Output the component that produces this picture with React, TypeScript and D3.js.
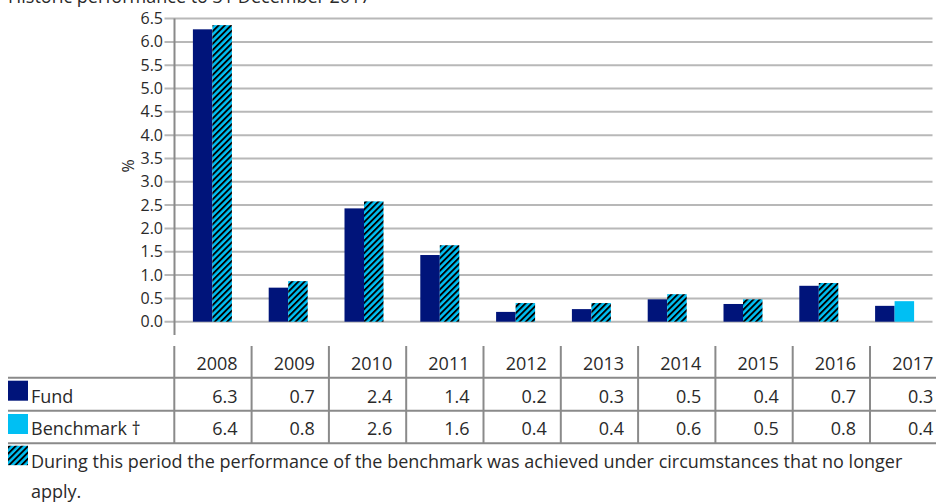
import React from "react";
import * as d3 from "d3";

const years = ["2008", "2009", "2010", "2011", "2012", "2013", "2014", "2015", "2016", "2017"];
const fundValues = [6.27, 0.73, 2.43, 1.43, 0.21, 0.27, 0.48, 0.38, 0.77, 0.34];
const benchValues = [6.36, 0.87, 2.58, 1.64, 0.4, 0.4, 0.59, 0.48, 0.83, 0.44];
const benchHatched = [true, true, true, true, true, true, true, true, true, false];
const fundLabels = ["6.3", "0.7", "2.4", "1.4", "0.2", "0.3", "0.5", "0.4", "0.7", "0.3"];
const benchLabels = ["6.4", "0.8", "2.6", "1.6", "0.4", "0.4", "0.6", "0.5", "0.8", "0.4"];
const yTicks = [0, 0.5, 1, 1.5, 2, 2.5, 3, 3.5, 4, 4.5, 5, 5.5, 6, 6.5];
const seriesNames = ["Fund", "Benchmark †"];
const title = "Historic performance to 31 December 2017";
const footnote1 = "During this period the performance of the benchmark was achieved under circumstances that no longer";
const footnote2 = "apply.";

const W = 936;
const H = 503;
const FUND = "#00147a";
const BENCH = "#00bff3";
const TEXT = "#2a2a2a";
const GRID = "#b8b8b8";
const AXIS = "#8a8a8a";
const FONT = "'Open Sans', 'Noto Sans', sans-serif";

export default function App() {
  const plotLeft = 174.5;
  const plotRight = 932.5;
  const y = d3.scaleLinear().domain([0, 6.5]).range([321.7, 18.6]);
  const x = d3.scaleBand<string>().domain(years).range([plotLeft, plotRight]).padding(0);
  const barW = 19.5;

  const tableLeft = 174.3;
  const colW = 77.3;
  const tx = d3.scaleBand<string>().domain(years).range([tableLeft, tableLeft + colW * years.length]);
  const rowLines = [377.7, 410.7, 443.3];
  const headerBase = 370;
  const rowBases = [402.7, 435.3];

  return (
    <svg
      width={W}
      height={H}
      style={{ position: "absolute", left: 0, top: 0, overflow: "hidden", background: "#fff" }}
      fontFamily={FONT}
    >
      <defs>
        <pattern id="hatch" patternUnits="userSpaceOnUse" width="4.4" height="4.4" patternTransform="rotate(45)">
          <rect width="4.4" height="4.4" fill={BENCH} />
          <rect x="0" y="0" width="1.9" height="4.4" fill="#000" />
        </pattern>
      </defs>

      <text x={8} y={3} fontSize={18} fill={TEXT}>{title}</text>

      {/* gridlines */}
      {yTicks.map((t) => (
        <line key={"g" + t} x1={164.5} x2={plotRight} y1={y(t)} y2={y(t)} stroke={GRID} strokeWidth={2} />
      ))}
      {/* y labels */}
      {yTicks.map((t) => (
        <text key={"l" + t} x={163} y={y(t) + 5.5} fontSize={16} fill={TEXT} textAnchor="end">
          {d3.format(".1f")(t)}
        </text>
      ))}
      <text
        transform={`translate(128,166) rotate(-90)`}
        fontSize={16}
        fill={TEXT}
        textAnchor="middle"
        dy="0.35em"
      >
        %
      </text>

      {/* bars */}
      {years.map((yr, i) => {
        const c = (x(yr) as number) + x.bandwidth() / 2;
        return (
          <g key={"b" + yr}>
            <rect x={c - barW} y={y(fundValues[i])} width={barW} height={y(0) - y(fundValues[i])} fill={FUND} />
            <rect
              x={c}
              y={y(benchValues[i])}
              width={barW}
              height={y(0) - y(benchValues[i])}
              fill={benchHatched[i] ? "url(#hatch)" : BENCH}
            />
          </g>
        );
      })}

      {/* axis */}
      <line x1={174.5} x2={174.5} y1={y(6.5)} y2={335} stroke={AXIS} strokeWidth={2} />

      {/* table */}
      {years.map((yr) => (
        <line key={"v" + yr} x1={tx(yr) as number} x2={tx(yr) as number} y1={346} y2={443.3} stroke={AXIS} strokeWidth={2} />
      ))}
      {rowLines.map((ly, i) => (
        <line key={"h" + i} x1={8} x2={W} y1={ly} y2={ly} stroke={AXIS} strokeWidth={2} />
      ))}
      {years.map((yr) => (
        <text key={"y" + yr} x={(tx(yr) as number) + colW - 14} y={headerBase} fontSize={18} fill={TEXT} textAnchor="end">
          {yr}
        </text>
      ))}
      {years.map((yr, i) => (
        <text key={"f" + yr} x={(tx(yr) as number) + colW - 14} y={rowBases[0]} fontSize={18} fill={TEXT} textAnchor="end">
          {fundLabels[i]}
        </text>
      ))}
      {years.map((yr, i) => (
        <text key={"bm" + yr} x={(tx(yr) as number) + colW - 14} y={rowBases[1]} fontSize={18} fill={TEXT} textAnchor="end">
          {benchLabels[i]}
        </text>
      ))}

      {/* legend squares */}
      <rect x={8} y={380.7} width={20} height={20} fill={FUND} />
      <rect x={8} y={414} width={20} height={20} fill={BENCH} />
      <rect x={8} y={445.7} width={20} height={19.5} fill="url(#hatch)" />
      <text x={31} y={rowBases[0]} fontSize={18} fill={TEXT}>{seriesNames[0]}</text>
      <text x={31} y={rowBases[1]} fontSize={18} fill={TEXT}>{seriesNames[1]}</text>
      <text x={31} y={467.7} fontSize={18} fill={TEXT}>{footnote1}</text>
      <text x={31} y={498} fontSize={18} fill={TEXT}>{footnote2}</text>
    </svg>
  );
}
